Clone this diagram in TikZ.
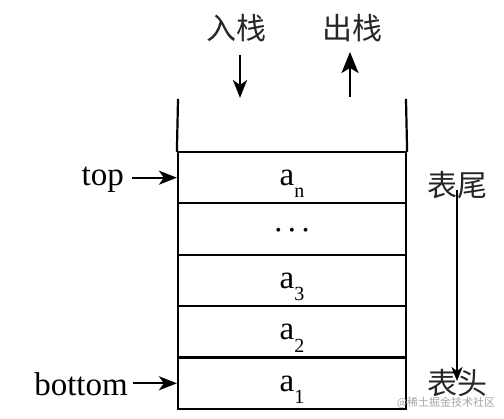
\documentclass[tikz,border=0pt]{standalone}
\usepackage{fontspec}
\setmainfont{Liberation Serif}
\newfontfamily\tnr{Liberation Serif}
\newfontfamily\cjk{Noto Sans CJK SC}
\usetikzlibrary{arrows.meta}
\newcommand{\elem}[1]{a\raisebox{-0.38em}{\fontsize{20}{20}\selectfont #1}}
\begin{document}
\begin{tikzpicture}[x=1pt,y=-1pt,
  wall/.style={line width=2.2pt,line cap=rect},
  cell/.style={draw,line width=2.2pt,minimum width=228pt,minimum height=51.4pt,inner sep=0pt,
    font=\tnr\fontsize{33}{33}\selectfont,text depth=0pt},
  lbl/.style={font=\tnr\fontsize{33}{33}\selectfont,inner sep=0pt},
  cjklbl/.style={font=\cjk\fontsize{30}{30}\selectfont,inner sep=0pt,text=black!85},
  arr/.style={line width=2pt,-{Stealth[length=18pt,width=14pt,inset=5pt]}},
  barr/.style={line width=2pt,-{Stealth[length=21pt,width=17pt,inset=5pt]}}]
\useasboundingbox (0,0) rectangle (504,419);
\fill[white] (0,0) rectangle (504,419);
% cells
\node[cell] (c5) at (292,177.7) {\elem{n}};
\node[cell] (c4) at (292,229.1) {\raisebox{-5pt}{\fontsize{16}{16}\selectfont\textbullet\hspace{8pt}\textbullet\hspace{8pt}\textbullet}};
\node[cell] (c3) at (292,280.5) {\elem{3}};
\node[cell] (c2) at (292,331.9) {\elem{2}};
\node[cell] (c1) at (292,383.3) {\elem{1}};
% walls
\coordinate (wl) at (178,100);
\coordinate (wr) at (406,100);
\draw[wall] (wl) -- (c5.north west);
\draw[wall] (wr) -- (c5.north east);
% push / pop
\node[cjklbl] (push) at (236,28) {入栈};
\node[cjklbl] (pop) at (352,28) {出栈};
\coordinate (pushs) at (240,55);
\coordinate (pushe) at (240,98);
\coordinate (pops) at (350,97);
\coordinate (pope) at (350,52);
\draw[arr] (pushs) -- (pushe);
\draw[barr] (pops) -- (pope);
% top / bottom
\node[lbl,anchor=east] (top) at (124,180) {top};
\node[lbl,anchor=east] (bottom) at (128,384) {bottom};
\draw[arr] ([xshift=8pt]top.east |- c5.west) -- (c5.west);
\draw[arr] ([xshift=5pt]bottom.east |- c1.west) -- (c1.west);
% tail / head
\node[cjklbl] (tail) at (457,185) {表尾};
\node[cjklbl] (head) at (457,383) {表头};
\draw[line width=1.8pt,-{Stealth[length=14pt,width=11pt,inset=4pt]}] ([yshift=9pt]tail.south) -- ([yshift=-12pt]head.north);
% watermark
\node[font=\cjk\fontsize{11}{11}\selectfont,text=black!35,inner sep=0pt] (wm) at (446,403) {@稀土掘金技术社区};
\end{tikzpicture}
\end{document}
